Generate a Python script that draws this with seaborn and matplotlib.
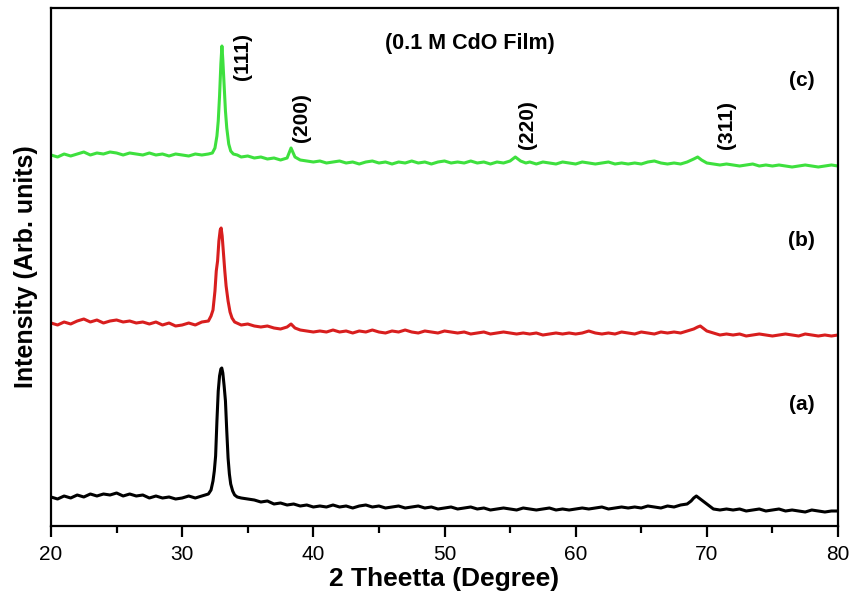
import numpy as np
import pandas as pd
import matplotlib
matplotlib.use("Agg")
import matplotlib.pyplot as plt
import seaborn as sns

# ---------------- data ----------------
a_x = [20.0, 20.5, 21.0, 21.5, 22.0, 22.5, 23.0, 23.5, 24.0, 24.5, 25.0, 25.5, 26.0, 26.5, 27.0, 27.5,
       28.0, 28.5, 29.0, 29.5, 30.0, 30.5, 31.0, 31.5, 32.0, 32.2, 32.35, 32.45, 32.55, 32.65, 32.75,
       32.85, 32.95, 33.02, 33.1, 33.2, 33.3, 33.4, 33.5, 33.6, 33.7, 33.85, 34.0, 34.2, 34.5, 35.0,
       35.5, 36.0, 36.5, 37.0, 37.5, 38.0, 38.5, 39.0, 39.5, 40.0, 40.5, 41.0, 41.5, 42.0, 42.5, 43.0,
       43.5, 44.0, 44.5, 45.0, 45.5, 46.0, 46.5, 47.0, 47.5, 48.0, 48.5, 49.0, 49.5, 50.0, 50.5, 51.0,
       51.5, 52.0, 52.5, 53.0, 53.5, 54.0, 54.5, 55.0, 55.5, 56.0, 56.5, 57.0, 57.5, 58.0, 58.5, 59.0,
       59.5, 60.0, 60.5, 61.0, 61.5, 62.0, 62.5, 63.0, 63.5, 64.0, 64.5, 65.0, 65.5, 66.0, 66.5, 67.0,
       67.5, 68.0, 68.5, 68.8, 69.0, 69.2, 69.4, 69.6, 69.9, 70.2, 70.5, 71.0, 71.5, 72.0, 72.5, 73.0,
       73.5, 74.0, 74.5, 75.0, 75.5, 76.0, 76.5, 77.0, 77.5, 78.0, 78.5, 79.0, 79.5, 80.0]
a_y = [29, 27, 30, 28, 31, 29, 32, 30, 32, 31, 33, 30, 32, 30, 31, 28,
       30, 28, 29, 27, 28, 30, 28, 30, 32, 36, 45, 55, 70, 105, 135,
       150, 157, 158, 153, 140, 125, 95, 68, 52, 42, 35, 31, 29, 28, 27,
       26, 24, 25, 22, 23, 21, 22, 20, 21, 19, 20, 19, 21, 19, 20, 18,
       20, 21, 19, 20, 18, 19, 20, 18, 19, 20, 18, 19, 17, 18, 19, 17,
       18, 19, 17, 18, 16, 17, 18, 17, 16, 18, 17, 16, 17, 18, 16, 17,
       16, 17, 18, 17, 18, 19, 17, 18, 19, 18, 19, 18, 20, 19, 18, 20,
       19, 21, 22, 25, 28, 30, 28, 26, 23, 20, 17, 16, 17, 16, 17, 15,
       16, 17, 15, 16, 17, 15, 16, 15, 14, 16, 15, 14, 15, 15]

b_x = [20.0, 20.5, 21.0, 21.5, 22.0, 22.5, 23.0, 23.5, 24.0, 24.5, 25.0, 25.5, 26.0, 26.5, 27.0, 27.5,
       28.0, 28.5, 29.0, 29.5, 30.0, 30.5, 31.0, 31.5, 32.0, 32.2, 32.35, 32.5, 32.6, 32.7, 32.8, 32.9,
       32.97, 33.05, 33.15, 33.25, 33.35, 33.5, 33.65, 33.8, 34.0, 34.5, 35.0, 35.5, 36.0, 36.5, 37.0,
       37.5, 38.0, 38.3, 38.6, 39.0, 39.5, 40.0, 40.5, 41.0, 41.5, 42.0, 42.5, 43.0, 43.5, 44.0, 44.5,
       45.0, 45.5, 46.0, 46.5, 47.0, 47.5, 48.0, 48.5, 49.0, 49.5, 50.0, 50.5, 51.0, 51.5, 52.0, 52.5,
       53.0, 53.5, 54.0, 54.5, 55.0, 55.5, 56.0, 56.5, 57.0, 57.5, 58.0, 58.5, 59.0, 59.5, 60.0, 60.5,
       61.0, 61.5, 62.0, 62.5, 63.0, 63.5, 64.0, 64.5, 65.0, 65.5, 66.0, 66.5, 67.0, 67.5, 68.0, 68.5,
       69.0, 69.3, 69.5, 69.7, 70.0, 70.5, 71.0, 71.5, 72.0, 72.5, 73.0, 73.5, 74.0, 74.5, 75.0, 75.5,
       76.0, 76.5, 77.0, 77.5, 78.0, 78.5, 79.0, 79.5, 80.0]
b_y = [203, 201, 204, 202, 205, 207, 204, 206, 203, 205, 206, 204, 205, 203, 204, 202,
       204, 201, 203, 200, 201, 203, 201, 204, 205, 210, 216, 235, 255, 265, 285, 296,
       298, 290, 272, 255, 240, 225, 214, 208, 204, 201, 202, 200, 199, 200, 198,
       197, 199, 202, 198, 196, 195, 194, 195, 194, 196, 194, 195, 193, 195, 194, 196,
       194, 193, 195, 194, 196, 194, 193, 195, 194, 193, 195, 194, 193, 194, 192, 193,
       194, 192, 193, 194, 193, 192, 193, 192, 193, 191, 192, 193, 192, 193, 192, 193,
       195, 193, 192, 193, 192, 194, 193, 192, 194, 193, 192, 194, 193, 194, 193, 195,
       197, 199, 200, 198, 195, 193, 191, 192, 191, 192, 190, 191, 192, 191, 190, 191,
       192, 191, 190, 192, 191, 190, 191, 190, 191]

c_x = [20.0, 20.5, 21.0, 21.5, 22.0, 22.5, 23.0, 23.5, 24.0, 24.5, 25.0, 25.5, 26.0, 26.5, 27.0, 27.5,
       28.0, 28.5, 29.0, 29.5, 30.0, 30.5, 31.0, 31.5, 32.0, 32.3, 32.5, 32.65, 32.75, 32.85, 32.95,
       33.03, 33.1, 33.2, 33.3, 33.4, 33.55, 33.7, 33.9, 34.2, 34.5, 35.0, 35.5, 36.0, 36.5, 37.0,
       37.5, 38.0, 38.3, 38.6, 39.0, 39.5, 40.0, 40.5, 41.0, 41.5, 42.0, 42.5, 43.0, 43.5, 44.0, 44.5,
       45.0, 45.5, 46.0, 46.5, 47.0, 47.5, 48.0, 48.5, 49.0, 49.5, 50.0, 50.5, 51.0, 51.5, 52.0, 52.5,
       53.0, 53.5, 54.0, 54.5, 55.0, 55.4, 55.8, 56.2, 56.5, 57.0, 57.5, 58.0, 58.5, 59.0, 59.5, 60.0,
       60.5, 61.0, 61.5, 62.0, 62.5, 63.0, 63.5, 64.0, 64.5, 65.0, 65.5, 66.0, 66.5, 67.0, 67.5, 68.0,
       68.5, 69.0, 69.3, 69.6, 70.0, 70.5, 71.0, 71.5, 72.0, 72.5, 73.0, 73.5, 74.0, 74.5, 75.0, 75.5,
       76.0, 76.5, 77.0, 77.5, 78.0, 78.5, 79.0, 79.5, 80.0]
c_y = [371, 369, 372, 370, 372, 374, 371, 373, 372, 374, 373, 371, 373, 372, 371, 373,
       371, 372, 370, 372, 371, 370, 372, 371, 372, 373, 378, 390, 405, 430, 462,
       480, 466, 440, 415, 398, 382, 375, 372, 371, 369, 370, 368, 369, 367, 368,
       366, 368, 378, 369, 366, 365, 364, 365, 363, 364, 365, 363, 364, 362, 364, 365,
       363, 364, 362, 364, 363, 365, 363, 364, 362, 364, 365, 363, 364, 363, 365, 363,
       364, 362, 364, 363, 365, 369, 365, 363, 364, 362, 364, 363, 362, 364, 363, 362,
       364, 363, 362, 363, 364, 362, 363, 362, 363, 362, 364, 365, 363, 362, 363, 362,
       364, 367, 369, 366, 363, 362, 361, 362, 361, 360, 361, 362, 360, 361, 360, 361,
       360, 359, 360, 361, 360, 359, 360, 361, 360]

samples = ["(a)", "(b)", "(c)"]
colors = ["#000000", "#d81e1e", "#3ee03e"]
peak_labels = ["(111)", "(200)", "(220)", "(311)"]
peak_label_x = [34.6, 39.1, 56.3, 71.5]
peak_label_y = [470, 408, 401, 401]
sample_label_y = [121, 286, 446]
title_text = "(0.1 M CdO Film)"
xticks = [20, 30, 40, 50, 60, 70, 80]

assert len(a_x) == len(a_y) and len(b_x) == len(b_y) and len(c_x) == len(c_y)

df = pd.concat([
    pd.DataFrame({"angle": a_x, "intensity": a_y, "sample": samples[0]}),
    pd.DataFrame({"angle": b_x, "intensity": b_y, "sample": samples[1]}),
    pd.DataFrame({"angle": c_x, "intensity": c_y, "sample": samples[2]}),
])

# ---------------- style ----------------
sns.set_style("ticks")
plt.rcParams["font.family"] = ["Liberation Sans", "DejaVu Sans"]
plt.rcParams["text.color"] = "black"
plt.rcParams["axes.labelcolor"] = "black"
plt.rcParams["xtick.color"] = "black"
plt.rcParams["ytick.color"] = "black"

fig = plt.figure(figsize=(8.52, 6.02), dpi=100)
ax = fig.add_axes([51 / 852, 1 - 526 / 602, (838 - 51) / 852, (526 - 8) / 602])

sns.lineplot(data=df, x="angle", y="intensity", hue="sample", hue_order=samples,
             palette=dict(zip(samples, colors)), estimator=None, sort=True,
             linewidth=2.2, legend=False, ax=ax)

ax.set_xlim(20, 80)
ax.set_ylim(0, 518)
ax.set_xticks(xticks)
ax.set_xticks([25, 35, 45, 55, 65, 75], minor=True)
ax.set_yticks([])
ax.tick_params(axis="x", which="major", direction="out", length=8, width=1.6,
               labelsize=15, pad=6, colors="black")
ax.tick_params(axis="x", which="minor", direction="out", length=5, width=1.6,
               colors="black")
for s in ax.spines.values():
    s.set_visible(True)
    s.set_linewidth(1.6)
    s.set_color("black")

ax.set_xlabel("2 Theetta (Degree)", fontsize=19, fontweight="bold", labelpad=2,
              color="black")
ax.set_ylabel("Intensity (Arb. units)", fontsize=18, fontweight="bold", labelpad=9,
              color="black")

for lab, px, py in zip(peak_labels, peak_label_x, peak_label_y):
    ax.text(px, py, lab, rotation=90, ha="center", va="center", fontsize=15,
            fontweight="bold", color="black")
for lab, py in zip(samples, sample_label_y):
    ax.text(77.25, py, lab, ha="center", va="center", fontsize=15, fontweight="bold",
            color="black")
ax.text(51.9, 483, title_text, ha="center", va="center", fontsize=15.5,
        fontweight="bold", color="black")

fig.savefig("out.png", dpi=100)
